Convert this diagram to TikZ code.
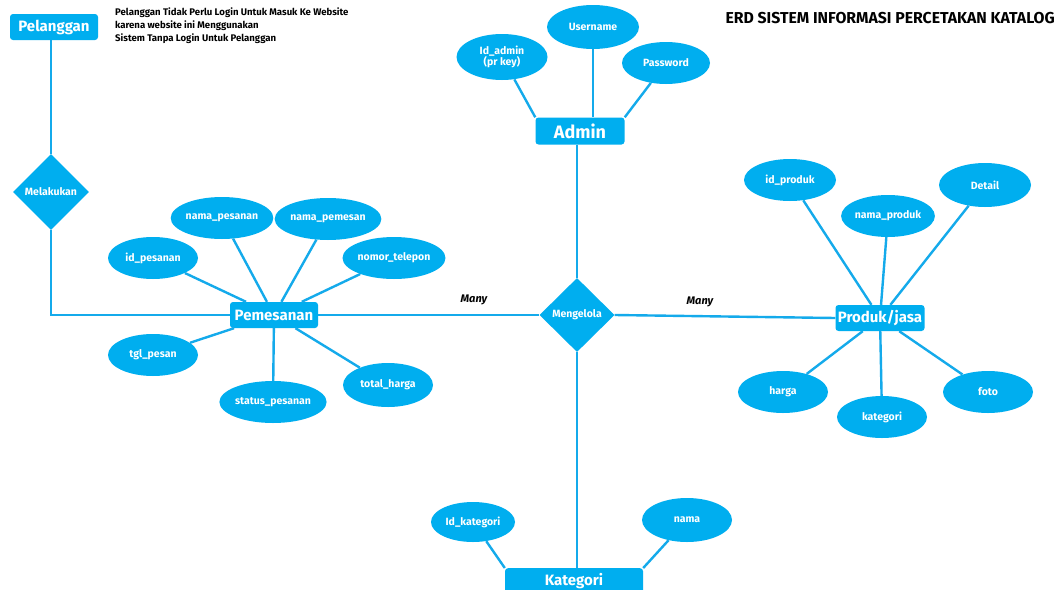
\documentclass[tikz,border=0pt]{standalone}
\usepackage{fontspec}
\setmainfont{Fira Sans}
\usetikzlibrary{shapes.geometric}
\definecolor{erdblue}{RGB}{0,174,239}
\definecolor{linkblue}{RGB}{20,170,235}
\tikzset{
  ent/.style={fill=erdblue, rounded corners=3pt, text=white, font=\bfseries\fontsize{15}{16}\selectfont, minimum height=26pt, inner sep=0pt},
  attr/.style={ellipse, fill=erdblue, text=white, align=center, font=\bfseries\fontsize{10.5}{12}\selectfont, minimum width=90pt, minimum height=42pt, inner sep=0pt},
  rel/.style={diamond, fill=erdblue, text=white, font=\bfseries\fontsize{10.5}{12}\selectfont, minimum width=76pt, minimum height=76pt, inner sep=0pt},
  link/.style={draw=linkblue, line width=2.4pt},
  lbl/.style={font=\bfseries\fontsize{11}{12}\selectfont, text=black, inner sep=0pt},
}
\begin{document}
\begin{tikzpicture}[x=1pt,y=-1pt]
\useasboundingbox[fill=white] (0,0) rectangle (1062,589);
\clip (0,0) rectangle (1062,589);
% entities
\node[ent, minimum width=88pt] (pel) at (54,27) {Pelanggan};
\node[ent, minimum width=88pt] (pem) at (274,315) {Pemesanan};
\node[ent, minimum width=89pt] (pro) at (880,318) {Produk/jasa};
\node[ent, minimum width=89pt, minimum height=27pt, font=\bfseries\fontsize{18}{19}\selectfont] (adm) at (580,131) {Admin};
\node[ent, minimum width=138pt, minimum height=26pt, anchor=north] (kat) at (574,568) {Kategori};
% relationships
\node[rel] (mel) at (51,192) {Melakukan};
\node[rel, minimum width=75pt, minimum height=74pt] (men) at (577,315) {Mengelola};
% admin attributes
\node[attr, minimum width=91pt, minimum height=46pt] (ida) at (502,57) {Id\_admin\\[-1pt](pr key)};
\node[attr, minimum width=92pt, minimum height=44pt] (usr) at (593,27) {Username};
\node[attr, minimum width=88pt, minimum height=42pt] (pwd) at (666,63) {Password};
% pemesanan attributes
\node[attr] (nps) at (222,218) {nama\_pesanan};
\node[attr] (npm) at (328,219) {nama\_pemesan};
\node[attr] (ids) at (153,258) {id\_pesanan};
\node[attr] (tel) at (394,258) {nomor\_telepon};
\node[attr] (tgl) at (153,355) {tgl\_pesan};
\node[attr, minimum width=88pt] (sts) at (273,402) {status\_pesanan};
\node[attr, minimum height=44pt] (tot) at (388,385) {total\_harga};
% produk attributes
\node[attr, minimum width=92pt] (idp) at (790,180) {id\_produk};
\node[attr, minimum width=92pt, minimum height=44pt] (det) at (985,185) {Detail};
\node[attr] (npr) at (888,216) {nama\_produk};
\node[attr] (hrg) at (783,392) {harga};
\node[attr] (kgr) at (882,417) {kategori};
\node[attr] (fot) at (988,392) {foto};
% kategori attributes
\node[attr, minimum width=84pt, minimum height=40pt] (idk) at (473,522) {Id\_kategori};
\node[attr, minimum height=44pt] (nam) at (687,520) {nama};
% connectors
\draw[link] (pel.south -| mel.north) -- (mel.north);
\draw[link] (mel.south) |- (pem.west);
\draw[link] (pem.east) -- (men.west);
\draw[link] (men.east) -- (pro.west);
\draw[link] (adm.south -| men.north) -- (men.north);
\draw[link] (men.south) -- (kat.north -| men.south);
\draw[link] (ida) -- (adm.north west);
\draw[link] (usr) -- (adm.north -| usr.south);
\draw[link] (pwd) -- (adm.north east);
\draw[link] (nps) -- (pem);
\draw[link] (npm) -- (pem);
\draw[link] (ids) -- (pem);
\draw[link] (tel) -- (pem);
\draw[link] (tgl) -- (pem);
\draw[link] (sts) -- (pem);
\draw[link] (tot) -- (pem);
\draw[link] (idp) -- (pro);
\draw[link] (det) -- (pro);
\draw[link] (npr) -- (pro);
\draw[link] (hrg) -- (pro);
\draw[link] (kgr) -- (pro);
\draw[link] (fot) -- (pro);
\draw[link] (idk) -- (kat.north west);
\draw[link] (nam) -- (kat.north east);
% labels
\node[lbl] (m1) at (474,300) {\itshape Many};
\node[lbl] (m2) at (700,302) {\itshape Many};
\node[lbl, anchor=north west, align=left, font=\bfseries\fontsize{9.6}{13}\selectfont] (note) at (115,8) {Pelanggan Tidak Perlu Login Untuk Masuk Ke Website\\karena website ini Menggunakan\\Sistem Tanpa Login Untuk Pelanggan};
\node[lbl, anchor=east, font=\bfseries\fontsize{15.8}{17}\selectfont] (title) at (1055,18) {ERD SISTEM INFORMASI PERCETAKAN KATALOG};
\end{tikzpicture}
\end{document}
